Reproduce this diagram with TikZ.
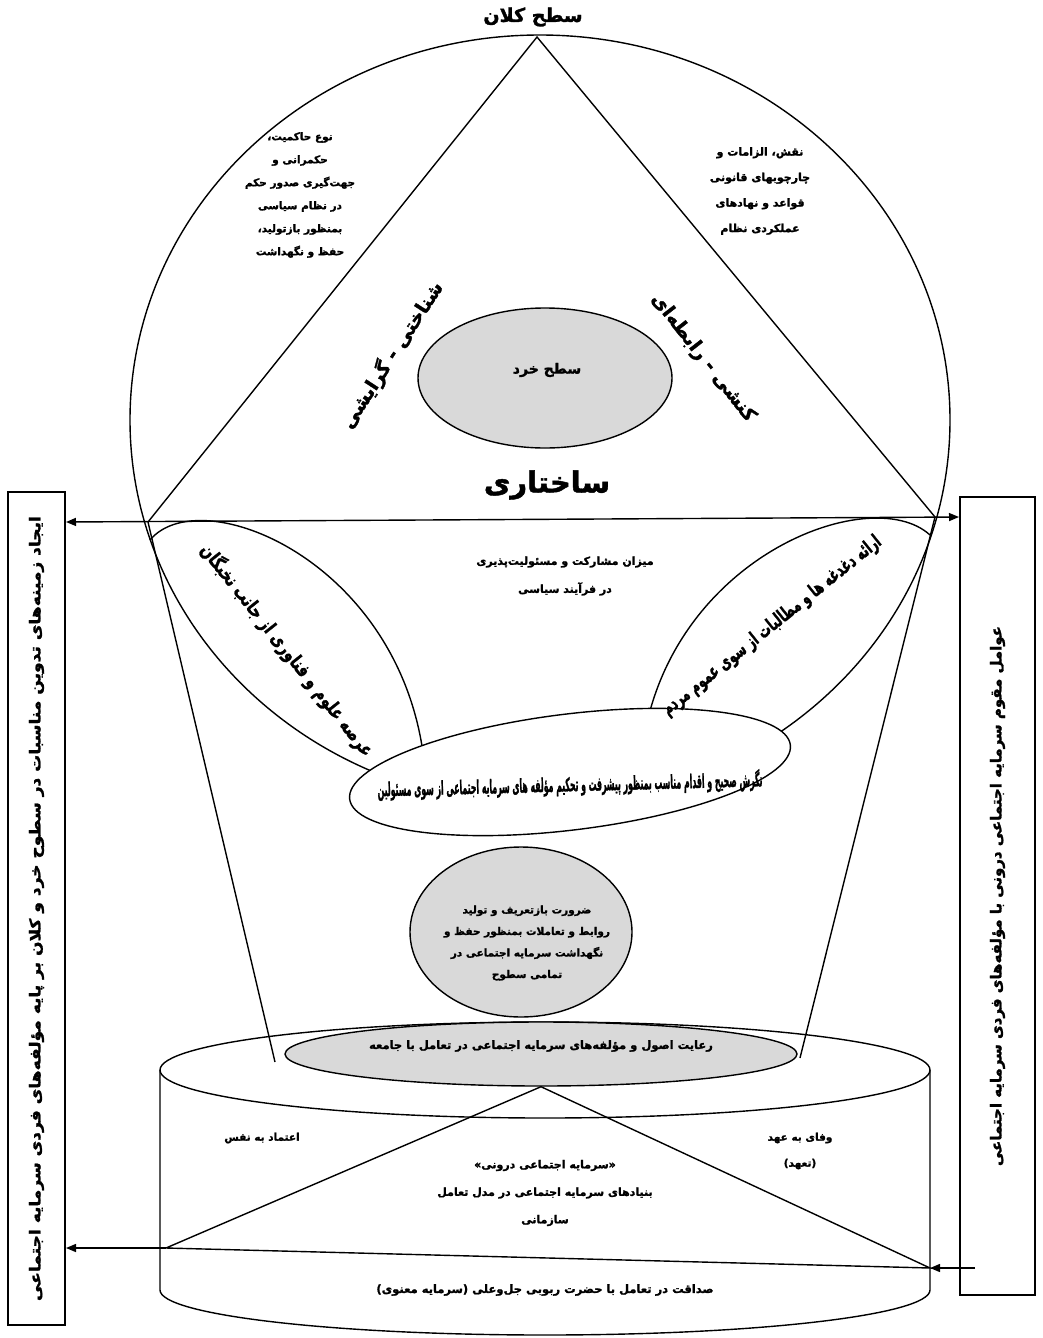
\documentclass[tikz,border=0pt]{standalone}
\usepackage{fontspec}
\usepackage{graphicx}
\usetikzlibrary{shapes.geometric,arrows.meta}
\TeXXeTstate=1
\newfontfamily\farsifont[Script=Arabic, BoldFeatures={FakeBold=1.6}]{DejaVu Sans}
\newcommand{\fa}[1]{{\farsifont\bfseries\beginR #1\endR}}
\newcommand{\squeeze}[2]{\resizebox{#1}{\height}{#2}}
\definecolor{shade}{RGB}{217,217,217}

\begin{document}
\begin{tikzpicture}[x=1pt, y=-1pt, line width=1.4pt,
    lbl/.style={font=\fontsize{10.5}{23}\selectfont, align=center, inner sep=0pt},
    oval/.style={ellipse, draw, inner sep=0pt},
    sidebox/.style={draw, line width=2pt, rotate=90, inner sep=0pt},
    tip/.style={-{Triangle[length=10pt,width=8pt]}},
    twotip/.style={{Triangle[length=10pt,width=8pt]}-{Triangle[length=10pt,width=8pt]}}]
    \useasboundingbox (0,0) rectangle (1043,1338);

    % Macro level circle
    \node [oval, minimum width=820pt, minimum height=770pt] (macro) at (540,420) {};
    \node [font=\fontsize{19}{20}\selectfont] (macrolbl) at (533,17) {\fa{سطح کلان}};

    % Triangle
    \coordinate (apex) at (537,37);
    \coordinate (tl) at (148,522);
    \coordinate (tr) at (935,517);
    \draw (tl) -- (apex) -- (tr);

    % Leaves
    \draw (150,540) .. controls (200,480) and (400,560) .. (424,760);
    \draw (930,535) .. controls (870,480) and (660,560) .. (641,760);

    % Bottom oval of the circle
    \node [oval, fill=white, rotate=7, minimum width=444pt, minimum height=116pt] (attitude) at (570,772) {};

    % Side boxes and base line
    \node [sidebox, minimum width=833pt, minimum height=57pt] (leftbox) at (36.5,908.5)
        {\fontsize{15}{16}\selectfont\squeeze{785pt}{\fa{ایجاد زمینه‌های تدوین مناسبات در سطوح خرد و کلان بر پایه مؤلفه‌های فردی سرمایه اجتماعی}}};
    \node [sidebox, minimum width=798pt, minimum height=75pt] (rightbox) at (997.5,896)
        {\fontsize{15}{16}\selectfont\squeeze{540pt}{\fa{عوامل مقوم سرمایه اجتماعی درونی با مؤلفه‌های فردی سرمایه اجتماعی}}};
    \draw [twotip] (leftbox.south |- tl) -- (tr -| rightbox.north);

    % Labels inside the circle
    \node [lbl] (rule) at (300,195) {\fa{نوع حاکمیت،}\\ \fa{حکمرانی و}\\ \fa{جهت‌گیری صدور حکم}\\ \fa{در نظام سیاسی}\\ \fa{بمنظور  بازتولید،}\\ \fa{حفظ و نگهداشت}};
    \node [lbl, font=\fontsize{11}{25.5}\selectfont] (law) at (760,191) {\fa{نقش، الزامات و}\\ \fa{چارچوبهای قانونی}\\ \fa{قواعد و نهادهای}\\ \fa{عملکردی نظام}};
    \node [oval, fill=shade, minimum width=254pt, minimum height=140pt] (micro) at (545,378) {};
    \node [font=\fontsize{14}{16}\selectfont] (microlbl) at (547,370) {\fa{سطح خرد}};
    \node [font=\fontsize{19}{20}\selectfont, rotate=57] (cognitive) at (392,355) {\fa{شناختی - گرایشی}};
    \node [font=\fontsize{19}{20}\selectfont, rotate=-52] (relational) at (703,358) {\fa{کنشی - رابطه‌ای}};
    \node [font=\fontsize{29}{30}\selectfont] (structural) at (547,485) {\fa{ساختاری}};
    \node [lbl, font=\fontsize{11}{28}\selectfont] (share) at (565,576) {\fa{میزان مشارکت و مسئولیت‌پذیری}\\ \fa{در فرآیند سیاسی}};
    \node [font=\fontsize{19}{20}\selectfont, rotate=-51.5] (elite) at (287,650) {\squeeze{265pt}{\fa{عرصه علوم و فناوری از جانب نخبگان}}};
    \node [font=\fontsize{19}{20}\selectfont, rotate=38.7] (people) at (772,626) {\squeeze{275pt}{\fa{ارائه دغدغه ها و مطالبات از سوی عموم مردم}}};
    \node [font=\fontsize{19}{20}\selectfont, rotate=1.5] (officials) at (570,785) {\squeeze{385pt}{\fa{نگرش صحیح و اقدام مناسب بمنظور پیشرفت و تحکیم مؤلفه های سرمایه اجتماعی از سوی مسئولین}}};

    % Middle oval
    \node [oval, fill=shade, minimum width=222pt, minimum height=170pt] (renew) at (521,932) {};
    \node [lbl, font=\fontsize{10.5}{21.5}\selectfont] (renewlbl) at (527,943) {\fa{ضرورت بازتعریف و تولید}\\ \fa{روابط و تعاملات بمنظور حفظ و}\\ \fa{نگهداشت سرمایه اجتماعی در}\\ \fa{تمامی سطوح}};

    % Cylinder
    \draw (160,1070) -- (160,1290) arc [start angle=180, end angle=360, x radius=385pt, y radius=45pt] -- (930,1070);
    \node [oval, minimum width=770pt, minimum height=96pt] (cyltop) at (545,1070) {};

    % Funnel
    \coordinate (fl) at (275,1062);
    \coordinate (fr) at (800,1058);
    \draw (tl) -- (fl);
    \draw (tr) -- (fr);
    \node [oval, fill=shade, minimum width=512pt, minimum height=64pt] (norms) at (541,1054) {};
    \node [lbl, font=\fontsize{11.5}{14}\selectfont] (normslbl) at (541,1046) {\fa{رعایت اصول و مؤلفه‌های سرمایه اجتماعی در تعامل با جامعه}};

    % Lower triangle
    \coordinate (bl) at (166,1248);
    \coordinate (br) at (930,1268);
    \draw (bl) -- (norms.south) -- (br) -- cycle;
    \draw [tip] (bl) -- (leftbox.south |- bl);
    \draw [tip] (975,1268) -- (br);

    % Cylinder labels
    \node [lbl] (selfconf) at (262,1138) {\fa{اعتماد به نفس}};
    \node [lbl, font=\fontsize{10.5}{26}\selectfont] (promise) at (800,1151) {\fa{وفای به عهد}\\ \fa{(تعهد)}};
    \node [lbl, font=\fontsize{11}{27.5}\selectfont] (inner) at (545,1193) {\fa{«سرمایه اجتماعی درونی»}\\ \fa{بنیادهای سرمایه اجتماعی در مدل تعامل}\\ \fa{سازمانی}};
    \node [lbl, font=\fontsize{11.5}{14}\selectfont] (honesty) at (545,1290) {\fa{صداقت در تعامل با حضرت ربوبی جل‌وعلی  (سرمایه معنوی)}};
\end{tikzpicture}
\end{document}
